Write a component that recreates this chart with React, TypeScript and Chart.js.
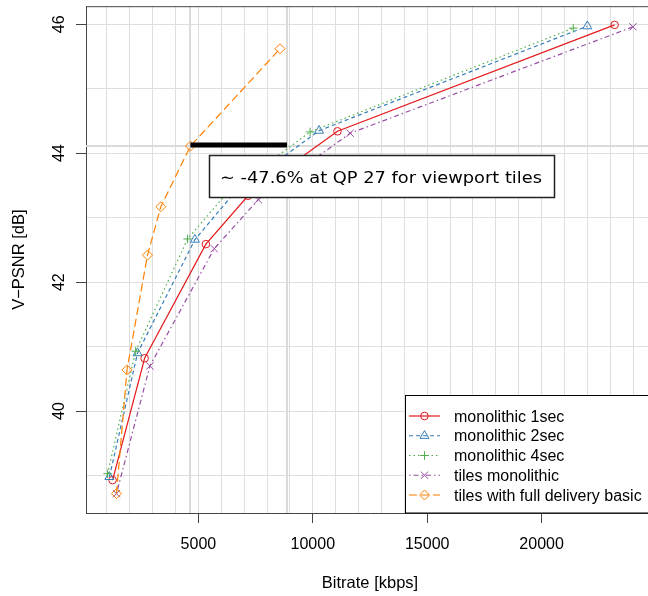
import React, { useEffect, useRef } from 'react';
import { Chart, registerables } from 'chart.js';
import { drawPoint } from 'chart.js/helpers';

Chart.register(...registerables);

// ---------- data ----------
const seriesNames = [
  'monolithic 1sec',
  'monolithic 2sec',
  'monolithic 4sec',
  'tiles monolithic',
  'tiles with full delivery basic',
];

const mono1Bitrate = [1250, 2650, 5328, 7170, 11078, 23191];
const mono1Psnr = [38.93, 40.82, 42.59, 43.34, 44.34, 45.99];

const mono2Bitrate = [1110, 2340, 4847, 6580, 10276, 21997];
const mono2Psnr = [38.98, 40.9, 42.66, 43.39, 44.35, 45.97];

const mono4Bitrate = [1030, 2260, 4527, 6240, 9882, 21383];
const mono4Psnr = [39.03, 40.93, 42.67, 43.38, 44.33, 45.94];

const tilesMonoBitrate = [1420, 2880, 5692, 7618, 11633, 23993];
const tilesMonoPsnr = [38.72, 40.7, 42.52, 43.28, 44.31, 45.96];

const tilesFullBitrate = [1420, 1880, 2775, 3358, 4650, 8568];
const tilesFullPsnr = [38.72, 40.64, 42.42, 43.17, 44.11, 45.62];

const xTickValues = [5000, 10000, 15000, 20000];
const yTickValues = [40, 42, 44, 46];
const xGridValues = [1000, 2000, 3000, 4000, 5000, 6000, 7000, 8000, 9000, 10000, 11000, 12000,
  13000, 14000, 15000, 16000, 17000, 18000, 19000, 20000, 21000, 22000, 23000, 24000];
const yGridValues = [39, 40, 41, 42, 43, 44, 45, 46];

const xTitle = 'Bitrate [kbps]';
const yTitle = 'V\u2212PSNR [dB]';

const annotationText = '\u223C -47.6% at QP 27 for viewport tiles';
const refBitrate = 4650;
const compareBitrate = 8874;
const annotationPsnr = 44.11;

// ---------- styles ----------
const FONT = '"Liberation Sans", Arial, Helvetica, sans-serif';
const colors = ['#E41A1C', '#377EB8', '#4DAF4A', '#984EA3', '#FF7F00'];
const dashes = [[], [4, 3], [1.5, 3], [1.5, 3, 5, 3], [8, 4]];
const pointStyles = ['circle', 'triangle', 'cross', 'crossRot', 'rectRot'];
const pointRadii = [3.8, 5.2, 4.3, 5.2, 5];

const xs = [mono1Bitrate, mono2Bitrate, mono4Bitrate, tilesMonoBitrate, tilesFullBitrate];
const ys = [mono1Psnr, mono2Psnr, mono4Psnr, tilesMonoPsnr, tilesFullPsnr];

const overlay = {
  id: 'overlay',
  beforeDatasetsDraw(chart: any) {
    const { ctx, chartArea, scales } = chart;
    const x = scales.x;
    const y = scales.y;
    ctx.save();
    ctx.beginPath();
    ctx.rect(chartArea.left, chartArea.top, chartArea.right - chartArea.left, chartArea.bottom - chartArea.top);
    ctx.clip();
    ctx.strokeStyle = '#dadada';
    ctx.lineWidth = 2;
    [refBitrate, compareBitrate].forEach((v) => {
      const px = Math.round(x.getPixelForValue(v));
      ctx.beginPath();
      ctx.moveTo(px, chartArea.top);
      ctx.lineTo(px, chartArea.bottom);
      ctx.stroke();
    });
    const py = Math.round(y.getPixelForValue(annotationPsnr));
    ctx.beginPath();
    ctx.moveTo(chartArea.left, py);
    ctx.lineTo(chartArea.right, py);
    ctx.stroke();
    ctx.restore();

    // top border of the box
    ctx.save();
    ctx.strokeStyle = '#444';
    ctx.lineWidth = 1;
    ctx.beginPath();
    ctx.moveTo(chartArea.left, chartArea.top + 0.5);
    ctx.lineTo(chartArea.right, chartArea.top + 0.5);
    ctx.stroke();
    ctx.restore();
  },
  afterDatasetsDraw(chart: any) {
    const { ctx, chartArea, scales } = chart;
    const x = scales.x;
    const y = scales.y;
    ctx.save();
    // black segment
    ctx.strokeStyle = '#000';
    ctx.lineWidth = 5;
    ctx.lineCap = 'butt';
    const sy = y.getPixelForValue(annotationPsnr) - 1;
    ctx.beginPath();
    ctx.moveTo(x.getPixelForValue(refBitrate), sy);
    ctx.lineTo(x.getPixelForValue(compareBitrate), sy);
    ctx.stroke();

    // annotation box
    ctx.fillStyle = '#fff';
    ctx.fillRect(209.5, 155.5, 345, 42);
    ctx.strokeStyle = '#222';
    ctx.lineWidth = 1.5;
    ctx.strokeRect(209.5, 155.5, 345, 42);
    ctx.fillStyle = '#000';
    ctx.font = '16.5px "DejaVu Sans", sans-serif';
    ctx.textAlign = 'left';
    ctx.textBaseline = 'alphabetic';
    const w = ctx.measureText(annotationText).width;
    ctx.save();
    ctx.translate(220, 182.7);
    ctx.scale(322 / w, 1);
    ctx.fillText(annotationText, 0, 0);
    ctx.restore();

    // legend
    const lx = 405.5;
    const ly = 395.5;
    ctx.fillStyle = '#fff';
    ctx.fillRect(lx, ly, chartArea.right + 5 - lx, chartArea.bottom - ly);
    ctx.strokeStyle = '#000';
    ctx.lineWidth = 1;
    ctx.strokeRect(lx, ly, chartArea.right + 5 - lx, chartArea.bottom - ly);
    ctx.font = `16px ${FONT}`;
    seriesNames.forEach((name, i) => {
      const cy = 416 + i * 19.75;
      ctx.strokeStyle = colors[i];
      ctx.lineWidth = 1.2;
      ctx.setLineDash(dashes[i]);
      ctx.beginPath();
      ctx.moveTo(409, cy);
      ctx.lineTo(440, cy);
      ctx.stroke();
      ctx.setLineDash([]);
      ctx.fillStyle = 'rgba(0,0,0,0)';
      ctx.lineWidth = 1;
      drawPoint(ctx, { pointStyle: pointStyles[i], rotation: 0, radius: pointRadii[i], borderWidth: 1 } as any, 424.5, cy);
      ctx.fillStyle = '#000';
      ctx.fillText(name, 454, cy + 5.7);
    });
    ctx.restore();
  },
  afterDraw(chart: any) {
    const { ctx, chartArea, scales } = chart;
    const x = scales.x;
    const y = scales.y;
    ctx.save();
    ctx.fillStyle = '#000';
    ctx.font = `16px ${FONT}`;
    ctx.textAlign = 'center';
    ctx.textBaseline = 'alphabetic';
    xTickValues.forEach((v) => {
      ctx.fillText(String(v), x.getPixelForValue(v), chartArea.bottom + 36);
    });
    yTickValues.forEach((v) => {
      ctx.save();
      ctx.translate(chartArea.left - 22.5, y.getPixelForValue(v));
      ctx.rotate(-Math.PI / 2);
      ctx.fillText(String(v), 0, 0);
      ctx.restore();
    });
    ctx.font = `16.5px ${FONT}`;
    ctx.fillText(xTitle, (chartArea.left + chartArea.right) / 2, chartArea.bottom + 75.3);
    ctx.save();
    ctx.translate(24, (chartArea.top + chartArea.bottom) / 2);
    ctx.rotate(-Math.PI / 2);
    ctx.fillText(yTitle, 0, 0);
    ctx.restore();
    ctx.restore();
  },
};

export default function App() {
  const ref = useRef<HTMLCanvasElement>(null);

  useEffect(() => {
    const canvas = ref.current;
    if (!canvas) return;
    const datasets = seriesNames.map((name, i) => ({
      label: name,
      data: xs[i].map((v, j) => ({ x: v, y: ys[i][j] })),
      showLine: true,
      borderColor: colors[i],
      borderWidth: 1.2,
      borderDash: dashes[i],
      backgroundColor: 'rgba(0,0,0,0)',
      pointStyle: pointStyles[i],
      pointRadius: pointRadii[i],
      pointBorderColor: colors[i],
      pointBackgroundColor: 'rgba(0,0,0,0)',
      pointBorderWidth: 1,
      tension: 0,
      fill: false,
      order: 5 - i,
    }));

    const tickColor = (vals: number[]) => (c: any) =>
      c.tick && vals.includes(c.tick.value) ? '#444' : 'rgba(0,0,0,0)';

    const chart = new Chart(canvas, {
      type: 'scatter',
      data: { datasets },
      plugins: [overlay],
      options: {
        responsive: false,
        animation: false,
        devicePixelRatio: 1,
        layout: { padding: { left: 0, top: 5, right: 10, bottom: 0 } },
        plugins: { legend: { display: false }, tooltip: { enabled: false } },
        scales: {
          x: {
            type: 'linear',
            min: 88,
            max: 24912,
            afterBuildTicks: (s: any) => {
              s.ticks = xGridValues.map((v) => ({ value: v }));
            },
            afterFit: (s: any) => {
              s.height = 83;
            },
            ticks: { display: false },
            grid: { color: '#dedede', lineWidth: 1, tickLength: 10, tickColor: tickColor(xTickValues) },
            border: { display: true, color: '#444', width: 1 },
          },
          y: {
            type: 'linear',
            min: 38.42,
            max: 46.28,
            afterBuildTicks: (s: any) => {
              s.ticks = yGridValues.map((v) => ({ value: v }));
            },
            afterFit: (s: any) => {
              s.width = 86;
            },
            ticks: { display: false },
            grid: { color: '#dedede', lineWidth: 1, tickLength: 10, tickColor: tickColor(yTickValues) },
            border: { display: true, color: '#444', width: 1 },
          },
        },
      } as any,
    });
    return () => chart.destroy();
  }, []);

  return (
    <div style={{ position: 'absolute', left: 0, top: 0, width: 648, height: 596, overflow: 'hidden', background: '#fff' }}>
      <canvas ref={ref} width={664} height={596} style={{ display: 'block', width: 664, height: 596 }} />
    </div>
  );
}
